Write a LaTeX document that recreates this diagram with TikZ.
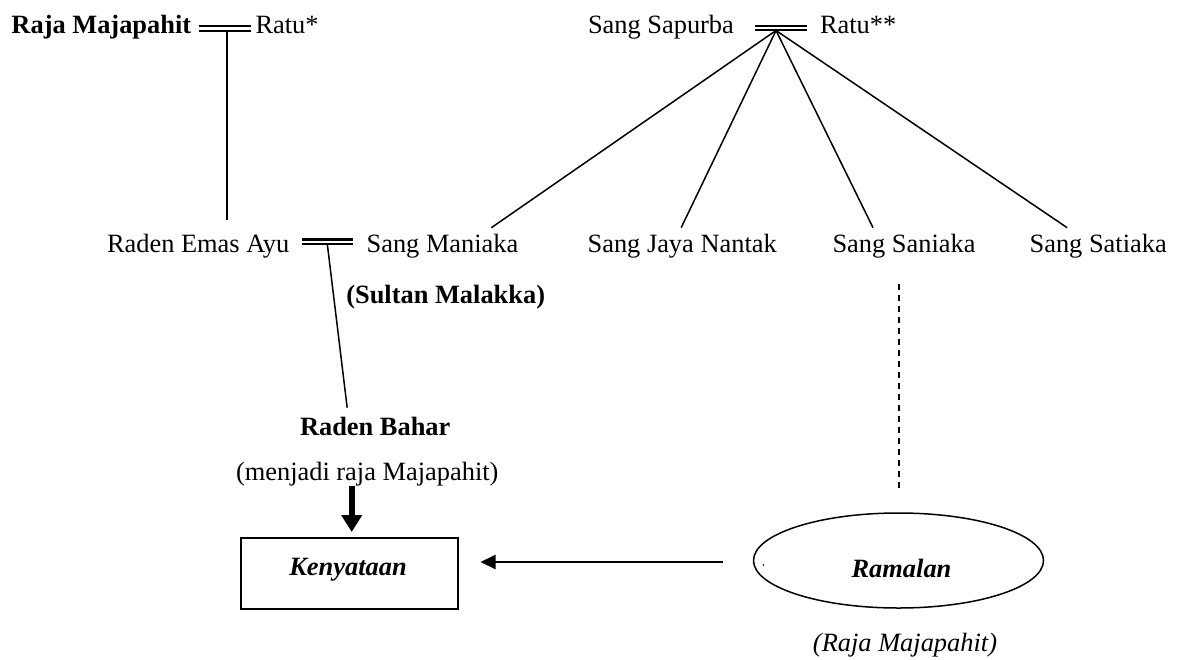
\documentclass[tikz,border=0pt]{standalone}
\usepackage{fontspec}
\setmainfont{Liberation Serif}
\usetikzlibrary{shapes.geometric,arrows.meta,calc}
\begin{document}
\begin{tikzpicture}[x=1pt,y=-1pt,
  every node/.style={inner sep=0pt,outer sep=0pt,font=\fontsize{26.4}{30}\selectfont},
  person/.style={anchor=base west},
  bperson/.style={anchor=base west,font=\fontsize{26.4}{30}\selectfont\bfseries},
  bond/.style={line width=2.3pt},
  link/.style={line width=1.5pt},
  dashln/.style={line width=1.5pt,dash pattern=on 6.5pt off 4.5pt},
  fatarrow/.style={line width=6pt,-{Triangle[length=17pt,width=20pt]}},
  thinarrow/.style={line width=2pt,-{Triangle[length=15pt,width=14pt]}},
  boxlabel/.style={anchor=base,font=\fontsize{26.4}{30}\selectfont\bfseries\itshape}
]
\useasboundingbox (0,0) rectangle (1178,659);
\fill[white] (0,0) rectangle (1178,659);

% first generation
\node[bperson] (raja) at (11.5,33) {Raja Majapahit};
\node[person] (ratu1) at (255.5,33) {Ratu*};
\node[person] (sapurba) at (588,33) {Sang Sapurba};
\node[person] (ratu2) at (820,33) {Ratu**};

% second generation
\node[person] (ayu) at (107,252) {Raden Emas Ayu};
\node[person] (maniaka) at (366.6,252) {Sang Maniaka};
\node[bperson] (sultan) at (346.3,303) {(Sultan Malakka)};
\node[person] (jaya) at (587.6,252) {Sang Jaya Nantak};
\node[person] (saniaka) at (832.5,252) {Sang Saniaka};
\node[person] (satiaka) at (1029.6,252) {Sang Satiaka};

% third generation
\node[bperson] (bahar) at (300,435) {Raden Bahar};
\node[person] (menjadi) at (236,480) {(menjadi raja Majapahit)};

% reality box and prophecy ellipse
\node[draw,line width=2pt,minimum width=217pt,minimum height=71pt] (kenyataan) at (349,573.5) {};
\node[boxlabel] (kenyataantxt) at (348,575) {Kenyataan};
\node[draw,ellipse,line width=1.5pt,minimum width=290pt,minimum height=95pt] (ramalan) at (898.5,560.5) {};
\node[boxlabel] (ramalantxt) at (901.5,577) {Ramalan};
\fill (763.5,565) circle (0.8pt);
\node[anchor=base,font=\fontsize{26.4}{30}\selectfont\itshape] (ramalanket) at (905,651) {(Raja Majapahit)};

% marriage bonds
\draw[bond] (199,26.3) -- (251,26.3) (199,30.7) -- (251,30.7);
\coordinate (j1) at (227,30.5);
\draw[bond] (755,25.7) -- (807,25.7) (755,30.1) -- (807,30.1);
\coordinate (j2) at (776,30.5);
\draw[bond] (301.7,239.5) -- (353.3,239.5) (301.7,243.9) -- (353.3,243.9);
\coordinate (j3) at (327.3,244);

% descent lines
\draw[link] (j1) -- ($(ayu.north -| j1)+(0,-14)$);
\draw[link] (j2) -- ($(maniaka.north east)+(-27,-6)$);
\draw[link] (j2) -- ($(jaya.north)+(-1,-6)$);
\draw[link] (j2) -- ($(saniaka.north)+(-31,-6)$);
\draw[link] (j2) -- ($(satiaka.north)+(-31,-6)$);
\draw[link] (j3) -- ($(bahar.north)+(-28,-9)$);
\draw[dashln] ($(ramalan.north |- saniaka.south)+(0.5,26)$) -- ($(ramalan.north)+(0.5,-23)$);

% arrows
\draw[fatarrow] ($(menjadi.south -| kenyataan.north)+(2.7,0)$) -- ($(kenyataan.north)+(2.7,-6)$);
\draw[thinarrow] ($(ramalan.west)+(-31,1.5)$) -- ($(kenyataan.east)+(23,-11.5)$);
\end{tikzpicture}
\end{document}
